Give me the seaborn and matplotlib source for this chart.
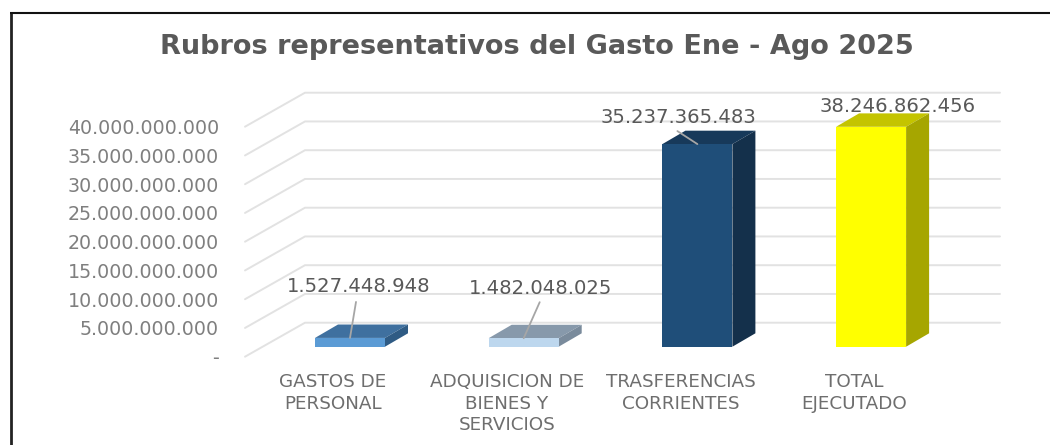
import numpy as np
import pandas as pd
import matplotlib
matplotlib.use('Agg')
import matplotlib.pyplot as plt
from matplotlib.patches import Polygon
from matplotlib.transforms import ScaledTranslation
import seaborn as sns

categories = ['GASTOS DE\nPERSONAL', 'ADQUISICION DE\nBIENES Y\nSERVICIOS',
              'TRASFERENCIAS\nCORRIENTES', 'TOTAL\nEJECUTADO']
values = [1527448948, 1482048025, 35237365483, 38246862456]
value_labels = ['1.527.448.948', '1.482.048.025', '35.237.365.483', '38.246.862.456']
tick_values = [0, 5e9, 10e9, 15e9, 20e9, 25e9, 30e9, 35e9, 40e9]
tick_labels = ['-', '5.000.000.000', '10.000.000.000', '15.000.000.000', '20.000.000.000',
               '25.000.000.000', '30.000.000.000', '35.000.000.000', '40.000.000.000']
title = 'Rubros representativos del Gasto Ene - Ago 2025'

front_colors = ['#5B9BD5', '#BDD7EE', '#1F4E79', '#FFFF00']
top_colors = ['#3F709F', '#8799AB', '#17395A', '#C4C400']
side_colors = ['#2F5B84', '#7A8B9C', '#14304B', '#A6A600']

W, H = 1050, 445
DPI = 100
GRAY = '#595959'

# pixel layout of the plot box
left_px, right_px, floor_px = 245, 1000, 346.7
px_per_value = 5.75 / 1e9
step_px = 173.7
first_center_px = 350
bar_px = 70
top_value = 44e9
depth_px = (23, 13.4)
wall_px = (60, 24)
front_drop_px = 10

sns.set_theme(style='white')
plt.rcParams['font.family'] = ['DejaVu Sans']

fig = plt.figure(figsize=(W / DPI, H / DPI), dpi=DPI, facecolor='white')
ax_h = top_value * px_per_value
ax = fig.add_axes([left_px / W, (H - floor_px) / H, (right_px - left_px) / W, ax_h / H])
ax.patch.set_alpha(0)

df = pd.DataFrame({'rubro': categories, 'valor': values})
sns.barplot(data=df, x='rubro', y='valor', hue='rubro', palette=front_colors, dodge=False,
            width=bar_px / step_px, saturation=1, legend=False, ax=ax, zorder=3,
            linewidth=0, edgecolor='none')

ax.set_xlim((left_px - first_center_px) / step_px, (right_px - first_center_px) / step_px)
ax.set_ylim(0, top_value)
ax.set_xlabel('')
ax.set_ylabel('')
sns.despine(ax=ax, left=True, bottom=True, top=True, right=True)

dx_cat = depth_px[0] / step_px
dy_val = depth_px[1] / px_per_value

# walls: slanted start, then flat gridline
for v in tick_values:
    y_front = v - front_drop_px / px_per_value
    y_back = v + (wall_px[1]) / px_per_value
    x0 = (left_px - first_center_px) / step_px
    x1 = (left_px + wall_px[0] - first_center_px) / step_px
    x2 = (right_px - first_center_px) / step_px
    ax.plot([x0, x1, x2], [y_front, y_back, y_back], color='#E2E2E2', lw=1.4, zorder=1,
            clip_on=False, solid_joinstyle='miter')

# 3d faces built from the bars seaborn drew
for bar, top_c, side_c in zip(ax.patches, top_colors, side_colors):
    x, w, h = bar.get_x(), bar.get_width(), bar.get_height()
    ax.add_patch(Polygon([(x, h), (x + dx_cat, h + dy_val), (x + w + dx_cat, h + dy_val), (x + w, h)],
                         closed=True, fc=top_c, ec='none', zorder=2.5, clip_on=False))
    ax.add_patch(Polygon([(x + w, 0), (x + w + dx_cat, dy_val), (x + w + dx_cat, h + dy_val), (x + w, h)],
                         closed=True, fc=side_c, ec='none', zorder=2.5, clip_on=False))

# axis labels
ax.set_yticks(tick_values)
ax.set_yticklabels(tick_labels)
ax.tick_params(axis='y', length=0, pad=18.7, labelsize=13.7, labelcolor='#7F7F7F')
ax.tick_params(axis='x', length=0, pad=19, labelsize=13.2, labelcolor='#6E6E6E')
shift = ScaledTranslation(0, -front_drop_px / DPI, fig.dpi_scale_trans)
for lab in ax.get_yticklabels():
    lab.set_transform(lab.get_transform() + shift)
shift_x = ScaledTranslation(-17 / DPI, 0, fig.dpi_scale_trans)
for lab in ax.get_xticklabels():
    lab.set_linespacing(1.25)
    lab.set_transform(lab.get_transform() + shift_x)

# data labels, with leader lines where the label was moved
label_offsets = [(9, 51), (17, 50), (-19, 27), (27, 20)]
leader_ends = [(6, 36), (16, 36), (-20, 13), None]
for bar, val, txt, (ox, oy), end in zip(ax.patches, values, value_labels, label_offsets, leader_ends):
    cx = bar.get_x() + bar.get_width() / 2
    ax.annotate(txt, (cx, val), xytext=(ox * 72 / DPI, oy * 72 / DPI), textcoords='offset points',
                ha='center', va='center', color=GRAY, fontsize=14.1, zorder=6, annotation_clip=False)
    if end is not None:
        ax.annotate('', (cx, val), xytext=(end[0] * 72 / DPI, end[1] * 72 / DPI), textcoords='offset points',
                    arrowprops=dict(arrowstyle='-', color='#A6A6A6', lw=1.3, shrinkA=0, shrinkB=0),
                    zorder=5, annotation_clip=False)

fig.text(537 / W, 1 - 47 / H, title, ha='center', va='center', fontsize=19.5, fontweight='bold', color=GRAY)

# outer frame of the pasted picture
fig.add_artist(plt.Line2D([11 / W, 11 / W], [0, 1 - 12 / H], color='#222222', lw=2.0, solid_capstyle='butt'))
fig.add_artist(plt.Line2D([10 / W, 1], [1 - 12.5 / H, 1 - 12.5 / H], color='#111111', lw=1.5, solid_capstyle='butt'))

fig.savefig('out.png', dpi=DPI)
